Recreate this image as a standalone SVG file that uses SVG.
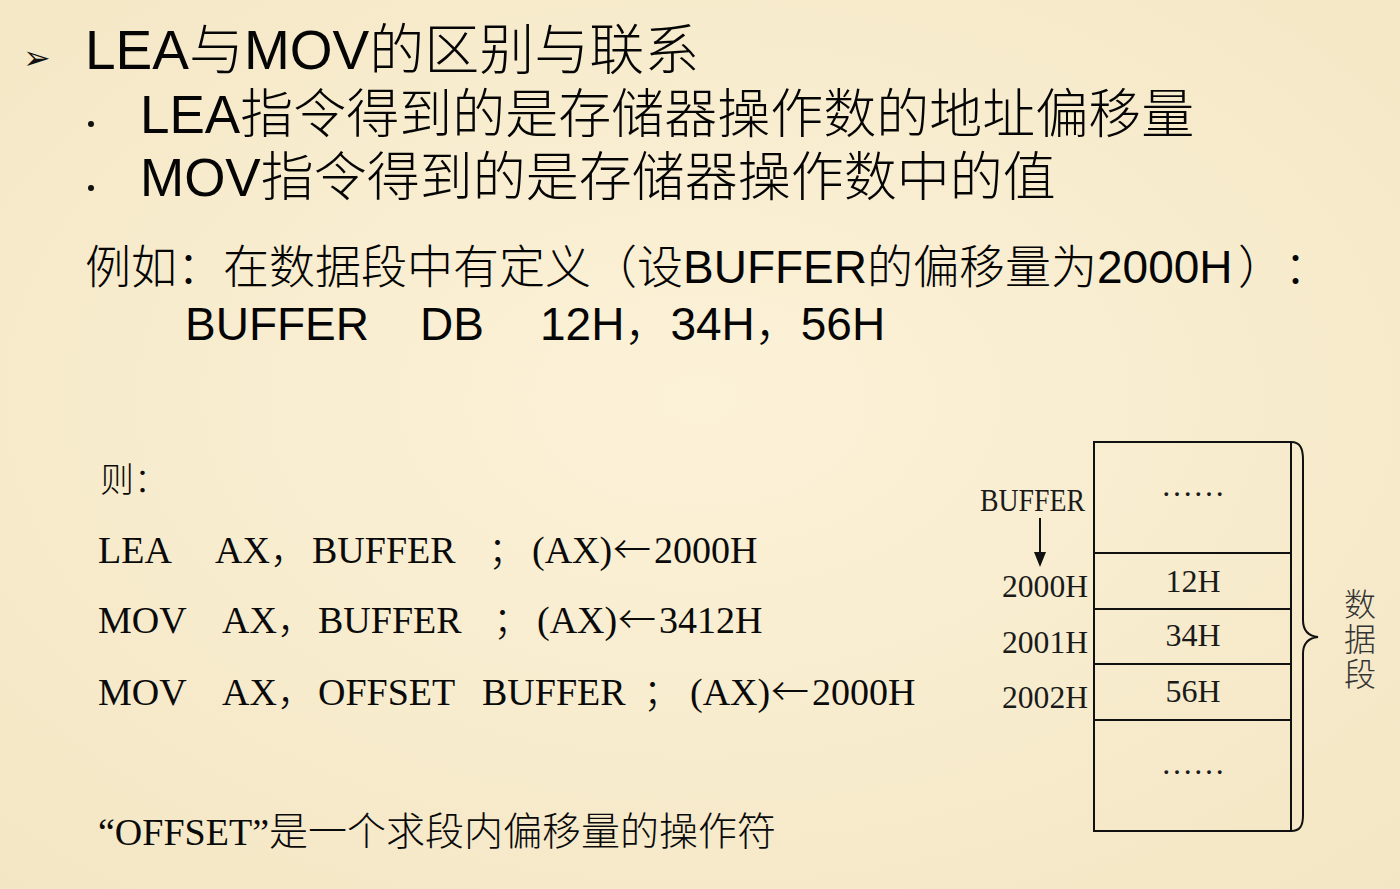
<svg xmlns="http://www.w3.org/2000/svg" width="1400" height="889" viewBox="0 0 1400 889">
<defs>
<style>
.sans{font-family:"Liberation Sans","Noto Sans CJK SC",sans-serif;fill:#050505}
.serif{font-family:"Liberation Serif","Noto Sans CJK SC",serif;fill:#0a0a0a}
.cjk{font-family:"Noto Sans CJK SC",sans-serif;font-weight:300}
.title{font-size:55px}
.big{font-size:53px}
.mid{font-size:46px}
.code{font-size:38px}
.dia{font-family:"Liberation Serif","Noto Sans CJK SC",serif;fill:#1a1a1a;font-size:32px}
.box{fill:none;stroke:#111;stroke-width:2}
</style>
<radialGradient id="bg" cx="50%" cy="45%" r="75%">
<stop offset="0" stop-color="#FCF2D8"/>
<stop offset="1" stop-color="#F3E6C4"/>
</radialGradient>
</defs>
<rect x="0" y="0" width="1400" height="889" fill="url(#bg)"/>

<g id="heading">
<text x="23" y="69" style="font-family:'DejaVu Sans',sans-serif;font-size:33px;fill:#111">➢</text>
<text x="85" y="69" class="sans title">LEA<tspan class="cjk">与</tspan>MOV<tspan class="cjk">的区别与联系</tspan></text>
</g>

<g id="bullet-lea">
<circle cx="91" cy="124" r="3" fill="#111"/>
<text x="140" y="133" class="sans big">LEA<tspan class="cjk">指令得到的是存储器操作数的地址偏移量</tspan></text>
</g>

<g id="bullet-mov">
<circle cx="91" cy="188" r="3" fill="#111"/>
<text x="140" y="196" class="sans big">MOV<tspan class="cjk">指令得到的是存储器操作数中的值</tspan></text>
</g>

<g id="example">
<text x="85" y="283" class="sans mid"><tspan class="cjk">例如：在数据段中有定义（设</tspan>BUFFER<tspan class="cjk">的偏移量为</tspan>2000H<tspan x="1238" class="cjk">）</tspan><tspan x="1284" class="cjk">：</tspan></text>
<text y="340" class="sans mid"><tspan x="185">BUFFER</tspan><tspan x="420">DB</tspan><tspan x="540">12H<tspan class="cjk">，</tspan>34H<tspan class="cjk">，</tspan>56H</tspan></text>
</g>

<g id="code">
<text x="100" y="492" class="serif cjk" style="font-size:34px">则：</text>
<text y="563" class="serif code"><tspan x="98">LEA</tspan><tspan x="215">AX<tspan class="cjk">，</tspan></tspan><tspan x="312">BUFFER</tspan><tspan x="488" class="cjk">；</tspan><tspan x="532">(AX)</tspan><tspan x="613" class="cjk">←</tspan><tspan x="654">2000H</tspan></text>
<text y="633" class="serif code"><tspan x="98">MOV</tspan><tspan x="222">AX<tspan class="cjk">，</tspan></tspan><tspan x="318">BUFFER</tspan><tspan x="493" class="cjk">；</tspan><tspan x="537">(AX)</tspan><tspan x="618" class="cjk">←</tspan><tspan x="659">3412H</tspan></text>
<text y="705" class="serif code"><tspan x="98">MOV</tspan><tspan x="222">AX<tspan class="cjk">，</tspan></tspan><tspan x="318">OFFSET</tspan><tspan x="482">BUFFER</tspan><tspan x="643" class="cjk">；</tspan><tspan x="690">(AX)</tspan><tspan x="771" class="cjk">←</tspan><tspan x="812">2000H</tspan></text>
<text x="98" y="845" class="serif code">“OFFSET”<tspan class="cjk" style="font-size:39px">是一个求段内偏移量的操作符</tspan></text>
</g>

<g id="memory">
<rect x="1094" y="442" width="197" height="389" class="box"/>
<line x1="1094" y1="553" x2="1291" y2="553" class="box"/>
<line x1="1094" y1="609" x2="1291" y2="609" class="box"/>
<line x1="1094" y1="664" x2="1291" y2="664" class="box"/>
<line x1="1094" y1="720" x2="1291" y2="720" class="box"/>
<text x="1193" y="496" class="dia" text-anchor="middle">……</text>
<text x="1193" y="592" class="dia" text-anchor="middle">12H</text>
<text x="1193" y="646" class="dia" text-anchor="middle">34H</text>
<text x="1193" y="702" class="dia" text-anchor="middle">56H</text>
<text x="1193" y="774" class="dia" text-anchor="middle">……</text>
</g>

<g id="labels">
<text x="980" y="511" class="dia" style="font-size:31px" textLength="105" lengthAdjust="spacingAndGlyphs">BUFFER</text>
<text x="1002" y="597" class="dia" textLength="86" lengthAdjust="spacingAndGlyphs">2000H</text>
<text x="1002" y="653" class="dia" textLength="86" lengthAdjust="spacingAndGlyphs">2001H</text>
<text x="1002" y="708" class="dia" textLength="86" lengthAdjust="spacingAndGlyphs">2002H</text>
</g>

<g id="connectors">
<line x1="1040" y1="518" x2="1040" y2="555" stroke="#111" stroke-width="2"/>
<polygon points="1034,552 1046,552 1040,567" fill="#111"/>
<path d="M1291,442 C1300,442 1303,448 1303,460 L1303,620 C1303,630 1308,636 1318,637 C1308,638 1303,644 1303,654 L1303,815 C1303,826 1300,831 1291,831" fill="none" stroke="#111" stroke-width="2"/>
</g>

<g id="segment-label">
<text class="cjk" style="font-size:32px;fill:#333" text-anchor="middle"><tspan x="1360" y="616">数</tspan><tspan x="1360" y="651">据</tspan><tspan x="1360" y="686">段</tspan></text>
</g>
</svg>
